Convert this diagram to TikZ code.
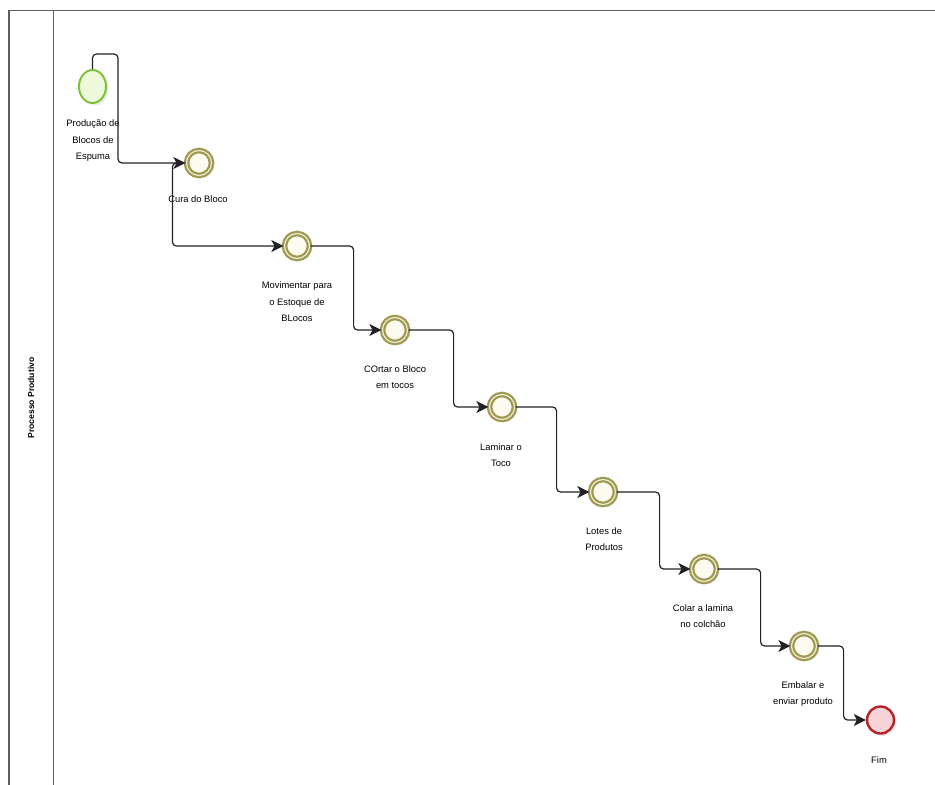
\documentclass[tikz,border=0pt]{standalone}
\usepackage{fontspec}
\setmainfont{Liberation Sans}
\usetikzlibrary{arrows.meta,shadows,shapes.geometric}
\definecolor{poolline}{HTML}{5E5E5E}
\definecolor{startgreen}{HTML}{7DC23A}
\definecolor{startfill}{HTML}{EEF9DC}
\definecolor{olivering}{HTML}{A09950}
\definecolor{creamfill}{HTML}{FDFBF0}
\definecolor{endred}{HTML}{B0242B}
\definecolor{endfill}{HTML}{F6D3D6}
\definecolor{flowc}{HTML}{222222}
\begin{document}
\begin{tikzpicture}[x=1bp,y=-1bp,
  pool/.style={draw=poolline, line width=1.6bp},
  evshadow/.style={drop shadow={opacity=0.16, shadow xshift=2.5bp, shadow yshift=-2.5bp}},
  startev/.style={ellipse, minimum width=27bp, minimum height=33bp, inner sep=0pt,
    draw=startgreen, line width=2bp, fill=startfill, evshadow},
  midev/.style={circle, minimum size=25bp, inner sep=0pt,
    draw=olivering, line width=2.2bp, double=creamfill!60!olivering!50, double distance=1.2bp,
    fill=creamfill, evshadow},
  endev/.style={circle, minimum size=27bp, inner sep=0pt,
    draw=endred, line width=2.4bp, fill=endfill, evshadow},
  lbl/.style={align=center, inner sep=0pt, font=\fontsize{9.4}{16.5}\selectfont, text=black},
  flow/.style={draw=flowc, line width=1.2bp, rounded corners=4bp,
    -{Stealth[length=12bp,width=12bp,inset=3bp]}}
]
\useasboundingbox (0,0) rectangle (935,785);
% pool
\draw[pool] (9,785) -- (9,10.5) -- (935,10.5);
\draw[pool] (53.5,10.5) -- (53.5,785);
\node[rotate=90, font=\bfseries\fontsize{8.6}{10}\selectfont] (lane) at (31,398) {Processo Produtivo};

% events
\node[startev] (n0) at (92.5,86.5) {};
\node[midev] (n1) at (199,163) {};
\node[midev] (n2) at (297,246) {};
\node[midev] (n3) at (395,330) {};
\node[midev] (n4) at (502,407) {};
\node[midev] (n5) at (603,492) {};
\node[midev] (n6) at (704,569) {};
\node[midev] (n7) at (804,646) {};
\node[endev] (n8) at (880.5,720) {};

% labels
\node[lbl] (l0) at (93,141) {Produção de\\Blocos de\\Espuma};
\node[lbl] (l1) at (198,199) {Cura do Bloco};
\node[lbl] (l2) at (297,302) {Movimentar para\\o Estoque de\\BLocos};
\node[lbl] (l3) at (395,377) {COrtar o Bloco\\em tocos};
\node[lbl] (l4) at (501,455) {Laminar o\\Toco};
\node[lbl] (l5) at (604,539) {Lotes de\\Produtos};
\node[lbl] (l6) at (703,616) {Colar a lamina\\no colchão};
\node[lbl] (l7) at (803,694) {Embalar e\\enviar produto};
\node[lbl] (l8) at (879,760) {Fim};

% flows
\draw[flow] (n0.north) |- (118,54) |- (n1.west);
\draw[flow] (n1.west) -- ++(-13,0) |- (n2.west);
\draw[flow] (n2.east) -- ++(43,0) |- (n3.west);
\draw[flow] (n3.east) -- ++(45,0) |- (n4.west);
\draw[flow] (n4.east) -- ++(41,0) |- (n5.west);
\draw[flow] (n5.east) -- ++(43,0) |- (n6.west);
\draw[flow] (n6.east) -- ++(43,0) |- (n7.west);
\draw[flow] (n7.east) -- ++(26,0) |- (n8.west);
\end{tikzpicture}
\end{document}
